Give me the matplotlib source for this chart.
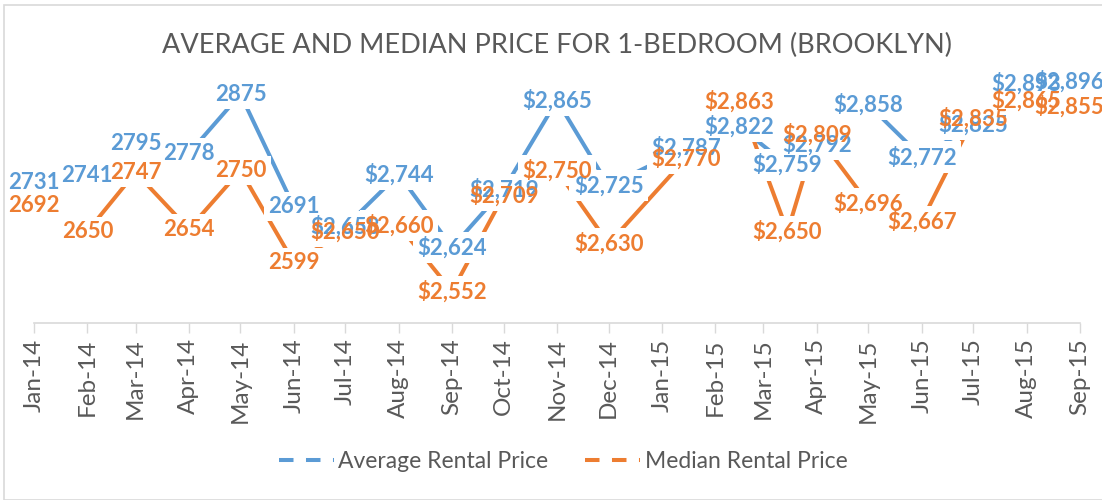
import matplotlib
matplotlib.use("Agg")
import matplotlib.pyplot as plt
import matplotlib.dates as mdates
from matplotlib.lines import Line2D
from matplotlib.patches import Rectangle
from datetime import datetime

# Observation dates (Jan-Mar 2015 readings were taken mid-month)
dates = [
    "2014-01-01", "2014-02-01", "2014-03-01", "2014-04-01", "2014-05-01",
    "2014-06-01", "2014-07-01", "2014-08-01", "2014-09-01", "2014-10-01",
    "2014-11-01", "2014-12-01", "2015-01-15", "2015-02-15", "2015-03-15",
    "2015-04-01", "2015-05-01", "2015-06-01", "2015-07-01", "2015-08-01",
    "2015-09-01",
]
average_price = [2731, 2741, 2795, 2778, 2875, 2691, 2658, 2744, 2624, 2719,
                 2865, 2725, 2787, 2822, 2759, 2792, 2858, 2772, 2825, 2893,
                 2896]
median_price = [2692, 2650, 2747, 2654, 2750, 2599, 2650, 2660, 2552, 2709,
                2750, 2630, 2770, 2863, 2650, 2809, 2696, 2667, 2835, 2865,
                2855]
series_names = ["Average Rental Price", "Median Rental Price"]
title = "AVERAGE AND MEDIAN PRICE FOR 1-BEDROOM (BROOKLYN)"
plain_label_count = 6  # first readings are labelled without currency format

BLUE = "#5B9BD5"
ORANGE = "#ED7D31"
TEXT_GRAY = "#595959"
LINE_GRAY = "#D9D9D9"

plt.rcParams["font.family"] = ["Lato", "DejaVu Sans"]

W, H = 1102, 500
fig = plt.figure(figsize=(W / 100, H / 100), dpi=100)

# chart border
fig.patches.append(Rectangle((4 / W, 0.5 / H), 1.2, (495.5 - 0.5) / H,
                             transform=fig.transFigure, fill=False,
                             edgecolor=LINE_GRAY, linewidth=1.2))

ax_left, ax_right = 34, 1080
ax_bottom, ax_top = 323, 79
ax = fig.add_axes([ax_left / W, (H - ax_bottom) / H,
                   (ax_right - ax_left) / W, (ax_bottom - ax_top) / H])

x = [datetime.strptime(d, "%Y-%m-%d") for d in dates]

label_kw = dict(ha="center", va="center", fontsize=16, fontweight="bold")
for values, color, zb in [(average_price, BLUE, 0), (median_price, ORANGE, 1)]:
    ax.plot(x, values, color=color, linewidth=2.9, solid_capstyle="butt",
            zorder=2, clip_on=False)
    for i, (xi, v) in enumerate(zip(x, values)):
        txt = f"{v}" if i < plain_label_count else f"${v:,}"
        dx = -8 if i == len(values) - 1 else 0
        # white label backing that hides the line under the label
        ax.annotate(txt, (xi, v), xytext=(dx, 0), textcoords="offset points",
                    color=(0, 0, 0, 0), zorder=3,
                    bbox=dict(boxstyle="square,pad=0.2", fc="white", ec="none"),
                    **label_kw)
        ax.annotate(txt, (xi, v), xytext=(dx, 0), textcoords="offset points",
                    color=color, zorder=4 + zb, **label_kw)

ax.set_xlim(datetime(2014, 1, 1), datetime(2015, 9, 1))
ax.set_ylim(2500, 2900)
ax.xaxis.set_major_locator(mdates.MonthLocator())
ax.xaxis.set_major_formatter(mdates.DateFormatter("%b-%y"))
ax.tick_params(axis="x", direction="out", length=7, width=1, color=LINE_GRAY,
               labelcolor=TEXT_GRAY, labelsize=17.5, labelrotation=90, pad=4)
ax.set_yticks([])
for side in ["left", "right", "top"]:
    ax.spines[side].set_visible(False)
ax.spines["bottom"].set_color(LINE_GRAY)
ax.spines["bottom"].set_linewidth(1.2)
ax.patch.set_visible(False)

fig.text(557 / W, 1 - 45 / H, title, ha="center", va="center",
         fontsize=19.5, color=TEXT_GRAY)

handles = [Line2D([], [], color=BLUE, linewidth=2.9, linestyle=(0, (3.6, 3.1))),
           Line2D([], [], color=ORANGE, linewidth=2.9, linestyle=(0, (3.6, 3.1)))]
fig.legend(handles, series_names, loc="center", bbox_to_anchor=(563 / W, 1 - 462 / H),
           ncol=2, frameon=False, fontsize=16.5, handlelength=2.4,
           handletextpad=0.2, columnspacing=1.6, labelcolor=TEXT_GRAY)

fig.savefig("out.png", dpi=100)
